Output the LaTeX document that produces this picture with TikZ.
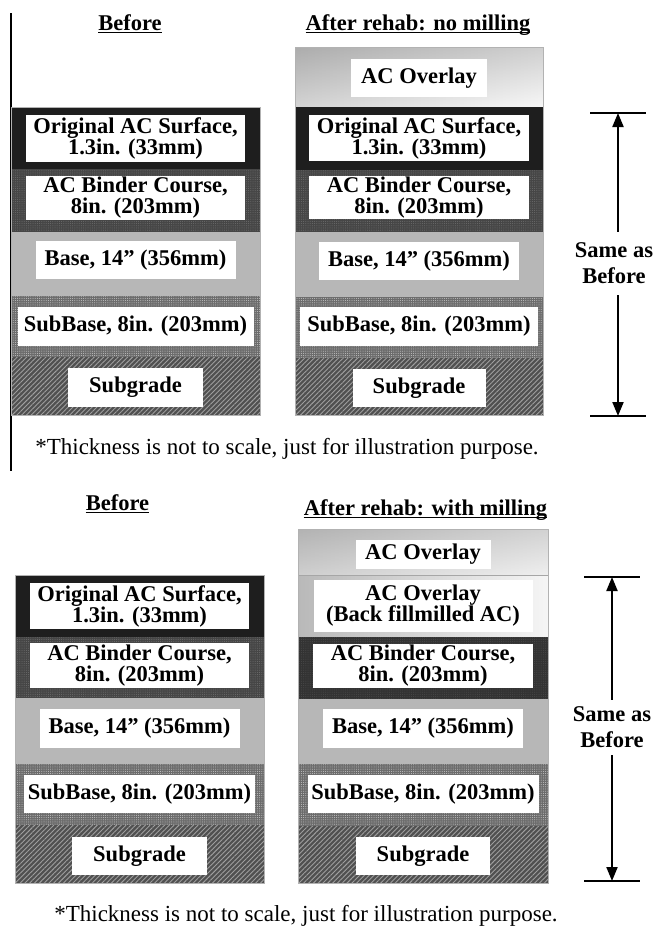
\documentclass[tikz,border=0pt]{standalone}
\usepackage{fontspec}
\setmainfont{Liberation Serif}
\usetikzlibrary{arrows.meta,patterns.meta}

\definecolor{surfacec}{HTML}{1E1E1E}
\definecolor{binderc}{HTML}{464646}
\definecolor{basec}{HTML}{B7B7B7}
\definecolor{subbasec}{HTML}{6C6C6C}
\definecolor{subgradec}{HTML}{505050}

\newcommand{\lblfont}{\fontsize{22.5}{21}\selectfont\bfseries}
\newcommand{\notefont}{\fontsize{23}{26}\selectfont}

\tikzset{
  lbl/.style={fill=white, inner sep=0pt, align=center, font=\lblfont},
  head/.style={inner sep=0pt, font=\lblfont, anchor=base},
  uline/.style={line width=1.8pt},
  sameas/.style={fill=white, inner sep=0pt, align=center, minimum width=70pt,
    font=\fontsize{22.5}{26}\selectfont\bfseries},
  dimline/.style={line width=2pt, -{Triangle[length=14pt,width=11pt]}},
  bar/.style={line width=2pt},
  note/.style={inner sep=0pt, font=\notefont},
  frame/.style={draw=gray!60, line width=0.6pt},
  dots/.style={pattern={Dots[distance=2.2pt, radius=0.5pt]}, pattern color=#1},
  hatch/.style={pattern={Lines[angle=45, distance=3.4pt, line width=0.9pt]}, pattern color=gray!75},
}

% one pavement layer: colour fill plus optional texture
\newcommand{\surf}[4]{\fill[surfacec] (#1,#3) rectangle (#2,#4);}
\newcommand{\binder}[4]{\fill[binderc] (#1,#3) rectangle (#2,#4);
  \fill[dots=gray!70!binderc] (#1,#3) rectangle (#2,#4);}
\newcommand{\basel}[4]{\fill[basec] (#1,#3) rectangle (#2,#4);}
\newcommand{\subbase}[4]{\fill[subbasec] (#1,#3) rectangle (#2,#4);
  \fill[dots=gray!45] (#1,#3) rectangle (#2,#4);}
\newcommand{\subgrade}[4]{\fill[subgradec] (#1,#3) rectangle (#2,#4);
  \fill[hatch] (#1,#3) rectangle (#2,#4);}

\begin{document}
\begin{tikzpicture}[x=1pt,y=-1pt]
\useasboundingbox[fill=white] (0,0) rectangle (654,932);

%% ---------------- upper panel: no milling ----------------
\draw[line width=1.2pt] (11,13) -- (11,471);

% before
\surf{11}{260}{107}{169}
\binder{11}{260}{169}{232}
\basel{11}{260}{232}{296}
\subbase{11}{260}{296}{357}
\subgrade{11}{260}{357}{415}
\draw[frame] (11,107) rectangle (260,415);

% after, no milling
\shade[top color=gray!75, bottom color=gray!12] (295,47) rectangle (543,107);
\shade[left color=gray!55, right color=white, opacity=0.5] (295,47) rectangle (543,107);
\surf{295}{543}{107}{170}
\binder{295}{543}{170}{232}
\basel{295}{543}{232}{297}
\subbase{295}{543}{297}{358}
\subgrade{295}{543}{358}{415}
\draw[frame] (295,47) rectangle (543,415);

\node[head] (h1) at (130,30) {Before};
\draw[uline] ([yshift=-2.5pt]h1.base west) -- ([yshift=-2.5pt]h1.base east);
\node[head] (h2) at (418,30) {After rehab: no milling};
\draw[uline] ([yshift=-2.5pt]h2.base west) -- ([yshift=-2.5pt]h2.base east);

\node[lbl, minimum width=219pt, minimum height=47pt] (a1) at (135.5,138.5) {Original AC Surface,\\1.3in. (33mm)};
\node[lbl, minimum width=219pt, minimum height=44pt] (a2) at (135.5,198) {AC Binder Course,\\8in. (203mm)};
\node[lbl, minimum width=200pt, minimum height=38pt] (a3) at (135.5,260) {Base, 14” (356mm)};
\node[lbl, minimum width=236pt, minimum height=39pt] (a4) at (135.5,326.5) {SubBase, 8in. (203mm)};
\node[lbl, minimum width=135pt, minimum height=39pt] (a5) at (135.5,387.5) {Subgrade};

\node[lbl, minimum width=136pt, minimum height=38pt] (b0) at (419,78) {AC Overlay};
\node[lbl, minimum width=220pt, minimum height=46pt] (b1) at (419,138) {Original AC Surface,\\1.3in. (33mm)};
\node[lbl, minimum width=220pt, minimum height=43pt] (b2) at (419,197.5) {AC Binder Course,\\8in. (203mm)};
\node[lbl, minimum width=200pt, minimum height=38pt] (b3) at (419,261) {Base, 14” (356mm)};
\node[lbl, minimum width=238pt, minimum height=39pt] (b4) at (419,326.5) {SubBase, 8in. (203mm)};
\node[lbl, minimum width=133pt, minimum height=38pt] (b5) at (419,388) {Subgrade};

% dimension: same as before
\coordinate (t1) at (618,113);
\coordinate (u1) at (618,416);
\node[sameas, minimum height=63pt] (s1) at (614,263.5) {Same as\\Before};
\draw[dimline] (s1.north -| t1) -- (t1);
\draw[dimline] (s1.south -| u1) -- (u1);
\draw[bar] ([xshift=-28pt]t1) -- ([xshift=28pt]t1);
\draw[bar] ([xshift=-28pt]u1) -- ([xshift=28pt]u1);

\node[note] (n1) at (287,449) {*Thickness is not to scale, just for illustration purpose.};

%% ---------------- lower panel: with milling ----------------
% before
\surf{15}{264}{575}{637}
\binder{15}{264}{637}{698}
\basel{15}{264}{698}{764}
\subbase{15}{264}{764}{825}
\subgrade{15}{264}{825}{883}
\draw[frame] (15,575) rectangle (264,883);

% after, with milling
\shade[top color=gray!70, bottom color=gray!25] (298,529) rectangle (548,575);
\shade[left color=gray!50, right color=white, opacity=0.5] (298,529) rectangle (548,575);
\shade[left color=gray!55, right color=gray!8] (298,575) rectangle (548,637);
\draw[gray!70, line width=0.8pt] (298,575) -- (548,575);
\binder{298}{548}{637}{699}
\fill[surfacec, opacity=0.45] (298,637) rectangle (548,699);
\basel{298}{548}{699}{764}
\subbase{298}{548}{764}{826}
\subgrade{298}{548}{826}{883}
\draw[frame] (298,529) rectangle (548,883);

\node[head] (h3) at (117.5,510) {Before};
\draw[uline] ([yshift=-2.5pt]h3.base west) -- ([yshift=-2.5pt]h3.base east);
\node[head] (h4) at (425.5,515) {After rehab: with milling};
\draw[uline] ([yshift=-2.5pt]h4.base west) -- ([yshift=-2.5pt]h4.base east);

\node[lbl, minimum width=219pt, minimum height=46pt] (c1) at (139.5,606) {Original AC Surface,\\1.3in. (33mm)};
\node[lbl, minimum width=219pt, minimum height=45pt] (c2) at (139.5,665.5) {AC Binder Course,\\8in. (203mm)};
\node[lbl, minimum width=200pt, minimum height=39pt] (c3) at (139.5,728.5) {Base, 14” (356mm)};
\node[lbl, minimum width=231pt, minimum height=38pt] (c4) at (139.5,794) {SubBase, 8in. (203mm)};
\node[lbl, minimum width=135pt, minimum height=38pt] (c5) at (139.5,856) {Subgrade};

\node[lbl, minimum width=135pt, minimum height=29pt] (d0) at (423,554.5) {AC Overlay};
\node[lbl, minimum width=219pt, minimum height=52pt] (d1) at (423,606) {AC Overlay\\(Back fillmilled AC)};
\node[lbl, minimum width=220pt, minimum height=44pt] (d2) at (423,666) {AC Binder Course,\\8in. (203mm)};
\node[lbl, minimum width=200pt, minimum height=39pt] (d3) at (423,728.5) {Base, 14” (356mm)};
\node[lbl, minimum width=231pt, minimum height=38pt] (d4) at (423,794) {SubBase, 8in. (203mm)};
\node[lbl, minimum width=134pt, minimum height=38pt] (d5) at (423,856) {Subgrade};

% dimension: same as before
\coordinate (t2) at (612,577);
\coordinate (u2) at (612,881);
\node[sameas, minimum height=55pt] (s2) at (612,727.5) {Same as\\Before};
\draw[dimline] (s2.north) -- (t2);
\draw[dimline] (s2.south) -- (u2);
\draw[bar] ([xshift=-28pt]t2) -- ([xshift=28pt]t2);
\draw[bar] ([xshift=-28pt]u2) -- ([xshift=28pt]u2);

\node[note] (n2) at (306,916) {*Thickness is not to scale, just for illustration purpose.};
\end{tikzpicture}
\end{document}
